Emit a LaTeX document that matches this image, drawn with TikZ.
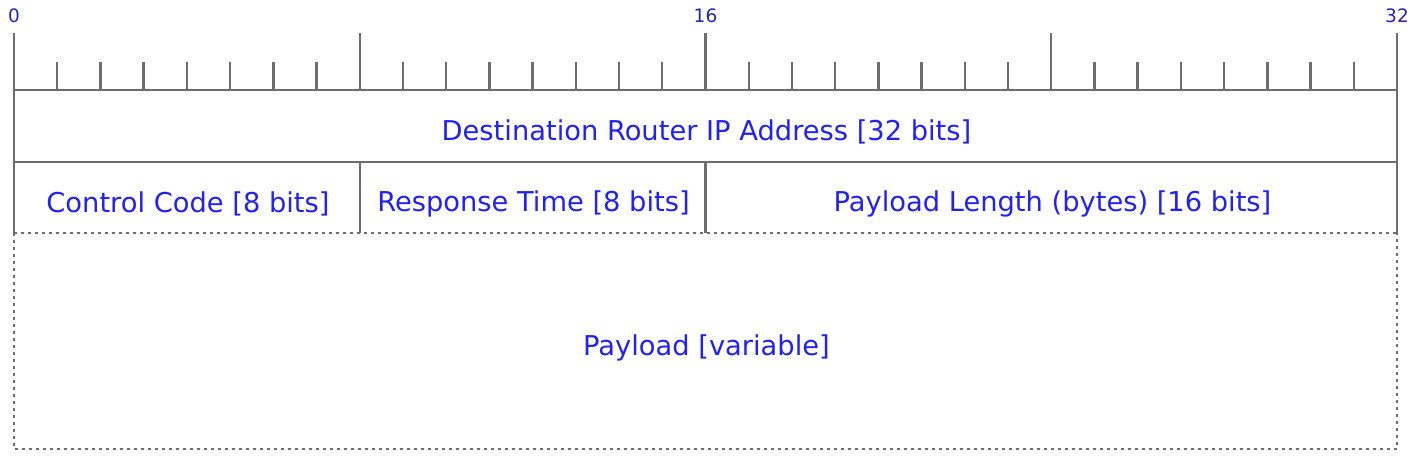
\documentclass[tikz,border=0pt]{standalone}
\usepackage{fontspec}
\setmainfont{DejaVu Sans}
\definecolor{txtblue}{RGB}{32,32,255}
\definecolor{numblue}{RGB}{35,35,180}
\definecolor{linegray}{RGB}{110,110,110}
\begin{document}
\begin{tikzpicture}[x=1pt,y=-1pt,
  rule/.style={draw=linegray,line width=2.4pt},
  dotrule/.style={draw=linegray,line width=2.6pt,dash pattern=on 2.6pt off 4.4pt},
  field/.style={text=txtblue,font=\fontsize{27.3}{32}\selectfont,inner sep=0pt,anchor=center},
  num/.style={text=numblue,font=\fontsize{18.5}{22}\selectfont,inner sep=0pt,anchor=center}]
\useasboundingbox (0,0) rectangle (1428,464);
% ruler
\coordinate (r0) at (14,90);
\coordinate (r32) at (1397,90);
\draw[rule] (r0) -- (r32);
\foreach \i in {0,...,32}{
  \pgfmathsetmacro{\xx}{14+\i*43.21875}
  \pgfmathparse{mod(\i,8)==0 ? 33 : 62}\let\yt\pgfmathresult
  \draw[rule] (\xx,\yt) -- (\xx,90);
}
\node[num] (n0) at (14,16) {0};
\node[num] (n16) at (705.5,16) {16};
\node[num] (n32) at (1397,16) {32};
% rows
\coordinate (a) at (14,90);
\coordinate (b) at (1397,90);
\coordinate (c) at (14,162);
\coordinate (d) at (1397,162);
\coordinate (e) at (14,233);
\coordinate (f) at (1397,233);
\coordinate (g) at (14,449);
\coordinate (h) at (1397,449);
\coordinate (m8t) at (359.75,162);
\coordinate (m8b) at (359.75,233);
\coordinate (m16t) at (705.5,162);
\coordinate (m16b) at (705.5,233);
\draw[rule] (e) -- (a) -- (b) -- (f);
\draw[rule] (c) -- (d);
\draw[rule] (m8t) -- (m8b);
\draw[rule] (m16t) -- (m16b);
\draw[dotrule] (e) -- (f);
\draw[dotrule] (e) -- (g) -- (h) -- (f);
% labels
\node[field] (dst) at (706.5,132) {Destination Router IP Address [32 bits]};
\node[field] (cc) at (188,203.5) {Control Code [8 bits]};
\node[field] (rt) at (533.5,203.5) {Response Time [8 bits]};
\node[field] (pl) at (1052.5,203.5) {Payload Length (bytes) [16 bits]};
\node[field] (pay) at (706.5,347.5) {Payload [variable]};
\end{tikzpicture}
\end{document}
